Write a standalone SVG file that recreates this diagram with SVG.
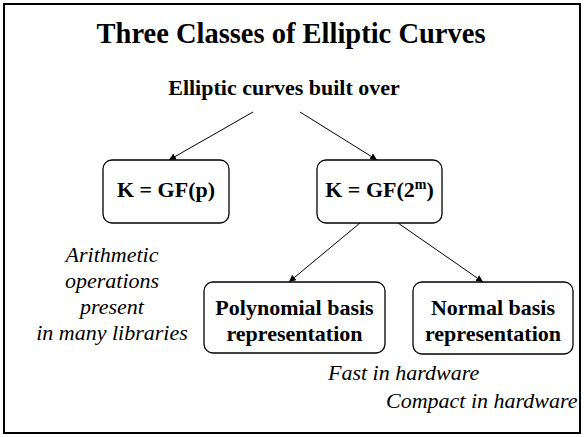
<svg xmlns="http://www.w3.org/2000/svg" width="584" height="437" viewBox="0 0 584 437">
<style>
.b{font-weight:bold;font-size:22px}
.i{font-style:italic;font-size:22px}
.box{fill:#fff;stroke:#000;stroke-width:1.3}
.c line{stroke:#000;stroke-width:1}
</style>
<defs>
<marker id="ah" viewBox="0 0 10 10" refX="10" refY="5" markerWidth="7" markerHeight="7" markerUnits="userSpaceOnUse" orient="auto">
<path d="M0,0 L10,5 L0,10 z" fill="#000"/>
</marker>
</defs>
<rect x="0" y="0" width="584" height="437" fill="#fff"/>
<rect x="4" y="4" width="576" height="429" fill="none" stroke="#000" stroke-width="2"/>
<g font-family="'Liberation Serif', 'Times New Roman', serif" fill="#000">
<text x="291" y="43" text-anchor="middle" font-weight="bold" font-size="28.5">Three Classes of Elliptic Curves</text>
<text id="root" class="b" x="284" y="95" text-anchor="middle">Elliptic curves built over</text>
<g class="c" id="connectors">
<line x1="253" y1="112" x2="169" y2="160" marker-end="url(#ah)"/>
<line x1="300" y1="112" x2="377" y2="160" marker-end="url(#ah)"/>
<line x1="360" y1="223" x2="289" y2="282" marker-end="url(#ah)"/>
<line x1="398" y1="223" x2="483" y2="282" marker-end="url(#ah)"/>
</g>
<g id="gfp">
<rect class="box" x="103" y="160" width="126" height="63" rx="9"/>
<text class="b" x="166" y="197" text-anchor="middle">K = GF(p)</text>
</g>
<g id="gf2m">
<rect class="box" x="317" y="160" width="125" height="63" rx="9"/>
<text class="b" x="379.5" y="197" text-anchor="middle">K = GF(2<tspan font-size="14" dy="-8">m</tspan><tspan dy="8">)</tspan></text>
</g>
<g id="poly">
<rect class="box" x="204" y="282" width="181" height="71" rx="9"/>
<text class="b" x="294.5" y="315" text-anchor="middle">Polynomial basis</text>
<text class="b" x="294.5" y="341" text-anchor="middle">representation</text>
</g>
<g id="normal">
<rect class="box" x="413" y="282" width="160" height="72" rx="9"/>
<text class="b" x="493" y="315" text-anchor="middle">Normal basis</text>
<text class="b" x="493" y="341" text-anchor="middle">representation</text>
</g>
<g id="notes">
<text class="i" x="112" y="262" text-anchor="middle">Arithmetic</text>
<text class="i" x="112" y="288" text-anchor="middle">operations</text>
<text class="i" x="112" y="314" text-anchor="middle">present</text>
<text class="i" x="112" y="340" text-anchor="middle">in many libraries</text>
<text class="i" x="328" y="380">Fast in hardware</text>
<text class="i" x="386" y="408">Compact in hardware</text>
</g>
</g>
</svg>
